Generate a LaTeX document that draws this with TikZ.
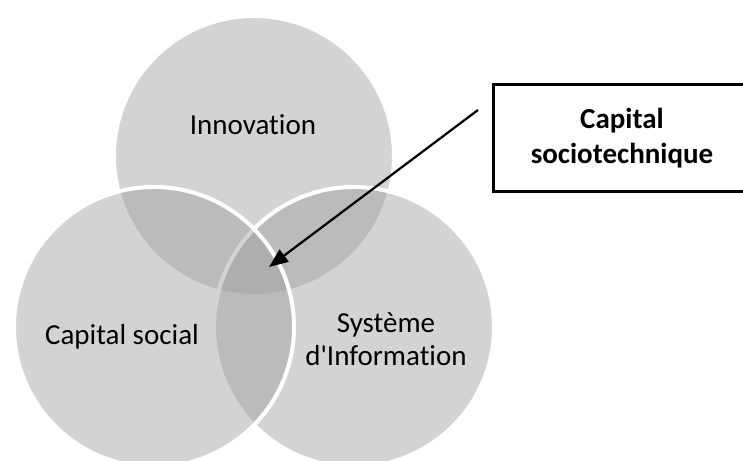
\documentclass[tikz,border=0pt]{standalone}
\usepackage{fontspec}
\newfontfamily\calib{Carlito}[Ligatures=NoCommon]
\usetikzlibrary{arrows.meta}
\begin{document}
\begin{tikzpicture}
                \tikzset{venn/.style={fill=black!38, fill opacity=0.45, draw=white, line width=0.08cm},
                    labeltext/.style={font=\calib\fontsize{16.5}{18.5}\selectfont, align=center}}
                \useasboundingbox (0, 0) rectangle (14.86, 9.22);
                \clip (0, 0) rectangle (14.86, 9.22);

                \draw[venn] (5.08, 6.10) circle (2.8);
                \draw[venn] (7.08, 2.68) circle (2.8);
                \draw[venn] (3.08, 2.68) circle (2.8);

                \node[labeltext] (inno) at (5.06, 6.72) {Innovation};
                \node[labeltext] (capsoc) at (2.44, 2.48) {Capital social};
                \node[labeltext] (sysinfo) at (7.72, 2.44) {Système\\d'Information};

                \node[labeltext, font=\calib\bfseries\fontsize{16.5}{20}\selectfont, draw, line width=0.06cm,
                    minimum width=5.16cm, minimum height=2.14cm] (capst) at (12.44, 6.45) {Capital\\sociotechnique};

                \coordinate (tail) at (9.56, 7.02);
                \coordinate (tip) at (5.38, 3.88);
                \draw[-{Triangle[length=0.38cm, width=0.3cm]}, line width=0.045cm] (tail) -- (tip);

            \end{tikzpicture}
\end{document}
